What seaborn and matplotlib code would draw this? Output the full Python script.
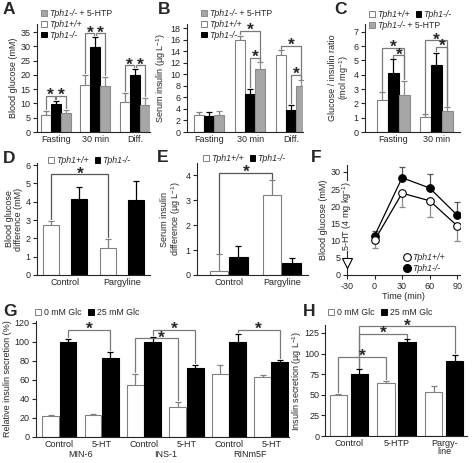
import numpy as np
import pandas as pd
import matplotlib
matplotlib.use('Agg')
import matplotlib.pyplot as plt
import seaborn as sns
from matplotlib.patches import Patch
from matplotlib.lines import Line2D

sns.set_style('ticks')
plt.rcParams['font.family'] = ['Liberation Sans', 'DejaVu Sans']
plt.rcParams['mathtext.fontset'] = 'custom'
plt.rcParams['mathtext.rm'] = 'Liberation Sans'
plt.rcParams['mathtext.it'] = 'Liberation Sans:italic'
plt.rcParams['axes.unicode_minus'] = False

# ---------------- data ----------------
a_groups = ['Fasting', '30 min', 'Diff.']
a_wt = [6.0, 16.5, 10.6]
a_wt_err = [1.3, 3.5, 3.1]
a_ko = [9.8, 29.7, 19.9]
a_ko_err = [1.2, 3.7, 2.3]
a_htp = [6.5, 16.0, 9.6]
a_htp_err = [1.3, 3.4, 2.4]

b_groups = ['Fasting', '30 min', 'Diff.']
b_wt = [2.9, 15.9, 13.3]
b_wt_err = [0.5, 0.8, 0.9]
b_ko = [2.7, 6.6, 3.8]
b_ko_err = [0.8, 0.9, 0.9]
b_htp = [2.9, 10.9, 8.0]
b_htp_err = [0.7, 1.2, 1.0]

c_groups = ['Fasting', '30 min']
c_wt = [2.25, 1.05]
c_wt_err = [0.55, 0.2]
c_ko = [4.1, 4.65]
c_ko_err = [1.0, 0.9]
c_htp = [2.6, 1.45]
c_htp_err = [1.0, 0.3]

d_groups = ['Control', 'Pargyline']
d_wt = [2.72, 1.45]
d_wt_err = [0.22, 0.52]
d_ko = [4.15, 4.1]
d_ko_err = [0.65, 1.05]

e_groups = ['Control', 'Pargyline']
e_wt = [0.18, 3.22]
e_wt_err = [0.65, 0.58]
e_ko = [0.73, 0.5]
e_ko_err = [0.42, 0.2]

f_time = [0, 30, 60, 90]
f_wt = [10.1, 23.8, 21.6, 14.3]
f_wt_err = [2.1, 3.9, 4.7, 4.5]
f_ko = [11.4, 28.3, 25.3, 17.4]
f_ko_err = [1.5, 3.0, 4.2, 3.8]

g_lines = ['MIN-6', 'INS-1', 'RINm5F']
g_treat = ['Control', '5-HT']
g_0 = [22.5, 23.5, 55, 32, 66, 63]
g_0_err = [1, 1, 11, 4.5, 9.5, 2]
g_25 = [100, 83, 100, 72.5, 100, 78.5]
g_25_err = [3, 6, 5, 3, 8.5, 3]

h_groups = ['Control', '5-HTP', 'Pargy-\nline']
h_0 = [49.5, 64, 53.5]
h_0_err = [2, 3, 7]
h_25 = [75, 114.5, 91.5]
h_25_err = [6, 3, 7]

# ---------------- style ----------------
W, H = 472, 463
fig = plt.figure(figsize=(W / 100, H / 100), dpi=100)
FS = 6.5
LFS = 6.3
GRAY = '#a6a6a6'
EDGE = '#808080'
BRK = '#7a7a7a'
STYLE = {
    'wt': dict(fc='white', ec=EDGE, err=EDGE),
    'ko': dict(fc='black', ec='black', err='black'),
    'htp': dict(fc=GRAY, ec='#8a8a8a', err='#8a8a8a'),
}


def px_axes(l, t, r, b):
    return fig.add_axes([l / W, 1 - b / H, (r - l) / W, (b - t) / H])


def style_ax(ax, yticks, ylim, xlim=None, xticks_len=0):
    sns.despine(ax=ax)
    ax.set_ylim(*ylim)
    ax.set_yticks(yticks)
    if xlim is not None:
        ax.set_xlim(*xlim)
    ax.tick_params(axis='y', length=3, width=0.8, pad=1.5, labelsize=FS)
    ax.tick_params(axis='x', length=xticks_len, width=0.8, pad=2, labelsize=FS)
    for s in ('left', 'bottom'):
        ax.spines[s].set_linewidth(0.8)
    ax.set_xlabel('')


def bar_panel(ax, groups, series, keys, width, gap=0.0):
    rows = []
    for k, vals in zip(keys, series):
        for g, v in zip(groups, vals):
            rows.append({'grp': g, 'val': v, 'hue': k})
    df = pd.DataFrame(rows)
    sns.barplot(data=df, x='grp', y='val', hue='hue', order=groups, hue_order=keys,
                palette={k: STYLE[k]['fc'] for k in keys}, width=width, gap=gap,
                errorbar=None, legend=False, saturation=1, ax=ax, linewidth=0.8)
    centers = []
    for k, cont in zip(keys, ax.containers):
        cs = []
        for bar in cont:
            bar.set_edgecolor(STYLE[k]['ec'])
            bar.set_facecolor(STYLE[k]['fc'])
            bar.set_linewidth(0.8)
            cs.append(bar.get_x() + bar.get_width() / 2)
        centers.append(cs)
    return centers


def errs(ax, xs, ys, es, color, direction=1):
    xs = np.asarray(xs); ys = np.asarray(ys); es = np.asarray(es)
    ends = ys + direction * es
    ax.vlines(xs, ys, ends, color=color, lw=0.9, zorder=1 if direction > 0 else 3)
    ax.plot(xs, ends, ls='none', marker='_', ms=5, mew=0.9, color=color, zorder=3)


def bracket(ax, x1, y1, x2, y2, h, sx=None, sdy=-3.0, color=BRK):
    ax.plot([x1, x1, x2, x2], [y1, h, h, y2], color=color, lw=0.9, clip_on=False,
            solid_joinstyle='miter')
    if sx is None:
        sx = (x1 + x2) / 2
    ax.annotate('*', (sx, h), xytext=(0, sdy), textcoords='offset points',
                ha='center', va='baseline', fontsize=12.5, fontweight='bold',
                annotation_clip=False)


def fig_legend(handles, labels, x, y, ncol=1, italic=True, htp=0.25, colsp=0.7):
    prop = {'size': LFS, 'style': 'italic' if italic else 'normal'}
    return fig.legend(handles, labels, loc='upper left', bbox_to_anchor=(x / W, 1 - y / H),
                      ncol=ncol, frameon=False, prop=prop, handlelength=0.65,
                      handleheight=0.65, handletextpad=htp, labelspacing=0.2,
                      columnspacing=colsp, borderpad=0, borderaxespad=0)


def sq(k):
    return Patch(facecolor=STYLE[k]['fc'], edgecolor=STYLE[k]['ec'], lw=0.7)


# ---------------- A ----------------
ax = px_axes(37, 24, 150, 132)
c = bar_panel(ax, a_groups, [a_wt, a_ko, a_htp], ['wt', 'ko', 'htp'], 0.75)
for i, (v, e, k) in enumerate([(a_wt, a_wt_err, 'wt'), (a_ko, a_ko_err, 'ko'), (a_htp, a_htp_err, 'htp')]):
    errs(ax, c[i], v, e, STYLE[k]['err'])
style_ax(ax, np.arange(0, 36, 5), (0, 37.8), (-0.47, 2.38))
ax.set_ylabel('Blood glucose (mM)', fontsize=FS, labelpad=2)
for g, h in zip(range(3), [12.6, 34.6, 23.4]):
    top = [a_wt[g] + a_wt_err[g], a_ko[g] + a_ko_err[g], a_htp[g] + a_htp_err[g]]
    bracket(ax, c[0][g], top[0] + 0.6, c[1][g] - 0.02, top[1] + 0.4, h)
    bracket(ax, c[1][g] + 0.02, top[1] + 0.4, c[2][g], top[2] + 0.6, h)

# ---------------- B ----------------
ax = px_axes(187, 24, 303, 132)
c = bar_panel(ax, b_groups, [b_wt, b_ko, b_htp], ['wt', 'ko', 'htp'], 0.73)
for i, (v, e, k) in enumerate([(b_wt, b_wt_err, 'wt'), (b_ko, b_ko_err, 'ko'), (b_htp, b_htp_err, 'htp')]):
    errs(ax, c[i], v, e, STYLE[k]['err'])
style_ax(ax, np.arange(0, 19, 2), (0, 18.7), (-0.54, 2.29))
ax.set_ylabel('Serum insulin (µg L$^{-1}$)', fontsize=FS, labelpad=2)
for g, hu, hl in [(1, 17.5, 12.8), (2, 14.9, 9.9)]:
    top = [b_wt[g] + b_wt_err[g], b_ko[g] + b_ko_err[g], b_htp[g] + b_htp_err[g]]
    bracket(ax, c[0][g], top[0] + 0.25, c[2][g], top[2] + 0.25, hu, sx=c[1][g])
    bracket(ax, c[1][g], top[1] + 0.25, c[2][g], top[2] + 0.25, hl)

# ---------------- C ----------------
ax = px_axes(365, 24, 460, 132)
c = bar_panel(ax, c_groups, [c_wt, c_ko, c_htp], ['wt', 'ko', 'htp'], 0.77)
for i, (v, e, k) in enumerate([(c_wt, c_wt_err, 'wt'), (c_ko, c_ko_err, 'ko'), (c_htp, c_htp_err, 'htp')]):
    errs(ax, c[i], v, e, STYLE[k]['err'])
style_ax(ax, np.arange(0, 8, 1), (0, 7.55), (-0.66, 1.55))
ax.set_ylabel('Glucose / insulin ratio\n(mol mg$^{-1}$)', fontsize=FS, labelpad=2,
              linespacing=1.0)
for g, hu, hl in [(0, 5.9, 5.35), (1, 6.4, 5.95)]:
    top = [c_wt[g] + c_wt_err[g], c_ko[g] + c_ko_err[g], c_htp[g] + c_htp_err[g]]
    bracket(ax, c[0][g], top[0] + 0.1, c[2][g], top[2] + 0.1, hu, sx=c[1][g])
    bracket(ax, c[1][g], top[1] + 0.1, c[2][g], top[2] + 0.1, hl)

# ---------------- D ----------------
ax = px_axes(37, 163, 150, 275)
c = bar_panel(ax, d_groups, [d_wt, d_ko], ['wt', 'ko'], 0.96, 0.42)
errs(ax, c[0], d_wt, d_wt_err, STYLE['wt']['err'])
errs(ax, c[1], d_ko, d_ko_err, STYLE['ko']['err'])
style_ax(ax, np.arange(0, 7, 1), (0, 6.11), (-0.49, 1.49))
ax.set_ylabel('Blood glucose\ndifference (mM)', fontsize=FS, labelpad=2, linespacing=1.0)
bracket(ax, c[0][0], d_wt[0] + d_wt_err[0] + 0.1, c[0][1], d_wt[1] + d_wt_err[1] + 0.1, 5.5,
        color='#555555')

# ---------------- E ----------------
ax = px_axes(197, 163, 308, 275)
c = bar_panel(ax, e_groups, [e_wt, e_ko], ['wt', 'ko'], 0.72, 0.05)
errs(ax, c[0], e_wt, e_wt_err, STYLE['wt']['err'])
errs(ax, c[1], e_ko, e_ko_err, STYLE['ko']['err'])
style_ax(ax, np.arange(0, 5, 1), (0, 4.48), (-0.6, 1.49))
ax.set_ylabel('Serum insulin\ndifference (µg L$^{-1}$)', fontsize=FS, labelpad=2, linespacing=1.0)
bracket(ax, c[0][0], e_wt[0] + e_wt_err[0] + 0.05, c[0][1], e_wt[1] + e_wt_err[1] + 0.05, 4.08,
        color='#555555')

# ---------------- F ----------------
ax = px_axes(347, 165, 460, 275)
errs(ax, f_time, f_wt, f_wt_err, '#8a8a8a', direction=-1)
errs(ax, f_time, f_ko, f_ko_err, '#555555', direction=1)
sns.lineplot(x=f_time, y=f_ko, ax=ax, color='black', lw=0.9, marker='o', ms=5.5,
             mfc='black', mec='black', zorder=4)
sns.lineplot(x=f_time, y=f_wt, ax=ax, color='black', lw=0.9, marker='o', ms=5.5,
             mfc='white', mec='black', mew=0.8, zorder=4)
style_ax(ax, np.arange(0, 31, 5), (0, 32), (-30, 93), xticks_len=3)
ax.set_xticks([-30, 0, 30, 60, 90])
ax.set_xlabel('Time (min)', fontsize=FS, labelpad=1)
ax.set_ylabel('Blood glucose (mM)', fontsize=FS, labelpad=2)
ax.plot([-30], [3.6], marker='v', ms=7, mfc='white', mec='black', mew=0.8, clip_on=False,
        ls='none', zorder=5)
ax.text(-30, 7.0, '5-HT (4 mg kg$^{-1}$)', rotation=90, ha='center', va='bottom', fontsize=FS,
        zorder=6, bbox=dict(facecolor='white', edgecolor='none', pad=0.3))

# ---------------- G ----------------
ax = px_axes(36, 321, 289, 437)
g_cats = [f'{l} {t}' for l in g_lines for t in g_treat]
c = bar_panel(ax, g_cats, [g_0, g_25], ['wt', 'ko'], 0.82, 0.03)
errs(ax, c[0], g_0, g_0_err, STYLE['wt']['err'])
errs(ax, c[1], g_25, g_25_err, STYLE['ko']['err'])
style_ax(ax, np.arange(0, 121, 20), (0, 122), (-0.55, 5.42))
ax.set_xticks(range(6))
ax.set_xticklabels([t for l in g_lines for t in g_treat])
ax.set_ylabel('Relative insulin secretion (%)', fontsize=FS, labelpad=2)
for i, l in enumerate(g_lines):
    ax.annotate(l, xy=(2 * i + 0.5, 0), xycoords=('data', 'axes fraction'), xytext=(0, -9.5),
                textcoords='offset points', ha='center', va='top', fontsize=FS)
t0 = [v + e for v, e in zip(g_0, g_0_err)]
t25 = [v + e for v, e in zip(g_25, g_25_err)]
bracket(ax, c[1][0], t25[0] + 2, c[1][1], t25[1] + 2, 113)
bracket(ax, c[0][2], t0[2] + 2, c[0][3], t0[3] + 2, 104, sx=(c[0][2] + c[0][3]) / 2 + 0.1)
bracket(ax, c[1][2], t25[2] + 2, c[1][3], t25[3] + 2, 113)
bracket(ax, c[1][4], t25[4] + 2, c[1][5], t25[5] + 2, 113)

# ---------------- H ----------------
ax = px_axes(325, 325, 467, 436)
c = bar_panel(ax, h_groups, [h_0, h_25], ['wt', 'ko'], 0.88, 0.18)
errs(ax, c[0], h_0, h_0_err, STYLE['wt']['err'])
errs(ax, c[1], h_25, h_25_err, STYLE['ko']['err'])
style_ax(ax, np.arange(0, 126, 25), (0, 134.7), (-0.5, 2.48))
ax.tick_params(axis='y', pad=1)
for lab in ax.get_xticklabels():
    lab.set_linespacing(0.95)
ax.set_ylabel('Insulin secretion (µg L$^{-1}$)', fontsize=FS, labelpad=0.5)
t0 = [v + e for v, e in zip(h_0, h_0_err)]
t25 = [v + e for v, e in zip(h_25, h_25_err)]
bracket(ax, c[0][0], t0[0] + 2, c[0][1], t0[1] + 2, 96)
bracket(ax, c[1][0], t25[0] + 2, c[1][1], t25[1] + 2, 124)
bracket(ax, c[1][0], t25[0] + 2, c[1][2], t25[2] + 2, 133)

# ---------------- legends ----------------
LBL_WT, LBL_KO, LBL_HTP = 'Tph1+/+', 'Tph1-/-', 'Tph1-/-'
htp_texts = []
lg = fig_legend([sq('htp'), sq('wt'), sq('ko')], [LBL_HTP, LBL_WT, LBL_KO], 41, 9)
htp_texts.append(lg.get_texts()[0])
lg = fig_legend([sq('htp'), sq('wt'), sq('ko')], [LBL_HTP, LBL_WT, LBL_KO], 201, 9)
htp_texts.append(lg.get_texts()[0])
fig_legend([sq('wt'), sq('ko')], [LBL_WT, LBL_KO], 369, 10, ncol=2)
lg = fig_legend([sq('htp')], [LBL_HTP], 369, 21)
htp_texts.append(lg.get_texts()[0])
fig_legend([sq('wt'), sq('ko')], [LBL_WT, LBL_KO], 48, 156, ncol=2)
fig_legend([sq('wt'), sq('ko')], [LBL_WT, LBL_KO], 203, 154, ncol=2)
fig_legend([Line2D([], [], ls='none', marker='o', ms=5.5, mfc='white', mec='black', mew=0.8),
            Line2D([], [], ls='none', marker='o', ms=5.5, mfc='black', mec='black')],
           [LBL_WT, LBL_KO], 404, 253)
fig_legend([sq('wt'), sq('ko')], ['0 mM Glc', '25 mM Glc'], 35, 308, ncol=2, italic=False,
           htp=0.4)
fig_legend([sq('wt'), sq('ko')], ['0 mM Glc', '25 mM Glc'], 328, 308, ncol=2, italic=False,
           htp=0.4)

# panel letters
for letter, x, y in [('A', 3, 2), ('B', 158, 2), ('C', 334, 2), ('D', 3, 151),
                     ('E', 157, 150), ('F', 311, 150), ('G', 3, 304), ('H', 303, 304)]:
    fig.text(x / W, 1 - y / H, letter, fontsize=12.5, fontweight='bold', ha='left', va='top')

fig.canvas.draw()
r = fig.canvas.get_renderer()
for t in htp_texts:
    bb = t.get_window_extent(r)
    fig.text(bb.x1 / W, bb.y0 / H, ' + 5-HTP', fontsize=LFS, ha='left', va='bottom')

fig.savefig('out.png', dpi=100)
